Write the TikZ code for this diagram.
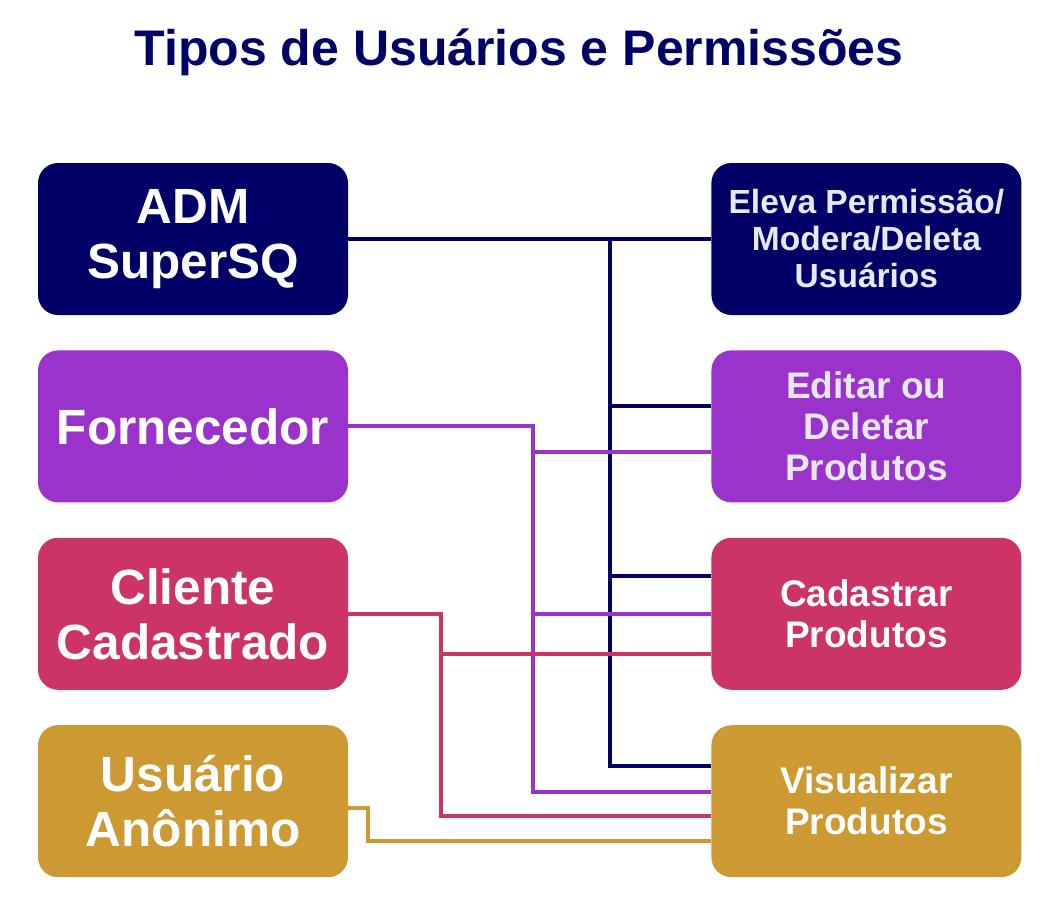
\documentclass[tikz,border=0pt]{standalone}
\usepackage{fontspec}
\setmainfont{Liberation Sans}
\usetikzlibrary{positioning}

\definecolor{admblue}{HTML}{000066}
\definecolor{fornpurple}{HTML}{9933CC}
\definecolor{clired}{HTML}{CC3366}
\definecolor{anongold}{HTML}{CC9933}
\definecolor{paletext}{HTML}{E8E8F4}

\begin{document}
\begin{tikzpicture}[x=1pt,y=-1pt,
    userbox/.style={rounded corners=20pt, minimum width=310pt, minimum height=152pt,
      inner sep=0pt, align=center, text=white, font=\bfseries\fontsize{49.5}{55}\selectfont},
    permbox/.style={userbox, text=paletext, font=\bfseries\fontsize{37}{41}\selectfont},
    link/.style={line width=4pt}]
    \useasboundingbox (0,0) rectangle (1059,910);

    % Title
    \node[text=admblue, font=\bfseries\fontsize{50}{54}\selectfont] (title) at (519,52)
      {Tipos de Usuários e Permissões};

    % User types (left column)
    \node[userbox, fill=admblue] (adm) at (193,239) {ADM\\SuperSQ};
    \node[userbox, fill=fornpurple, below=35pt of adm] (forn) {Fornecedor};
    \node[userbox, fill=clired, below=35pt of forn] (cli) {Cliente\\Cadastrado};
    \node[userbox, fill=anongold, below=35pt of cli] (anon) {Usuário\\Anônimo};

    % Permissions (right column)
    \node[permbox, fill=admblue, right=363pt of adm,
      font=\bfseries\fontsize{33.5}{37}\selectfont] (perm) {Eleva Permissão/\\Modera/Deleta\\Usuários};
    \node[permbox, fill=fornpurple, right=363pt of forn] (edit) {Editar ou\\Deletar\\Produtos};
    \node[permbox, fill=clired, text=white, right=363pt of cli] (cad) {Cadastrar\\Produtos};
    \node[permbox, fill=anongold, text=white, right=363pt of anon] (vis) {Visualizar\\Produtos};

    % Bus points
    \coordinate (admbus) at ([xshift=262pt]adm.east);
    \coordinate (fornbus) at ([xshift=185pt]forn.east);
    \coordinate (clibus) at ([xshift=93pt]cli.east);
    \coordinate (anonbus) at ([xshift=20pt,yshift=-7pt]anon.east);

    % ADM links
    \draw[link, admblue] (adm.east) -- (perm.west);
    \draw[link, admblue] (admbus) |- ([yshift=35pt]vis.west);
    \draw[link, admblue] ([yshift=20pt]edit.west) -| (admbus);
    \draw[link, admblue] ([yshift=38pt]cad.west) -| (admbus);

    % Fornecedor links
    \draw[link, fornpurple] (forn.east) -- (fornbus) |- ([yshift=9pt]vis.west);
    \draw[link, fornpurple] ([yshift=-26pt]edit.west) -| (fornbus);
    \draw[link, fornpurple] (cad.west) -| (fornbus);

    % Cliente links
    \draw[link, clired] (cli.east) -- (clibus) |- ([yshift=-15pt]vis.west);
    \draw[link, clired] ([yshift=-40pt]cad.west) -| (clibus);

    % Anonimo link
    \draw[link, anongold] ([yshift=-7pt]anon.east) -- (anonbus) |- ([yshift=-40pt]vis.west);
\end{tikzpicture}
\end{document}
